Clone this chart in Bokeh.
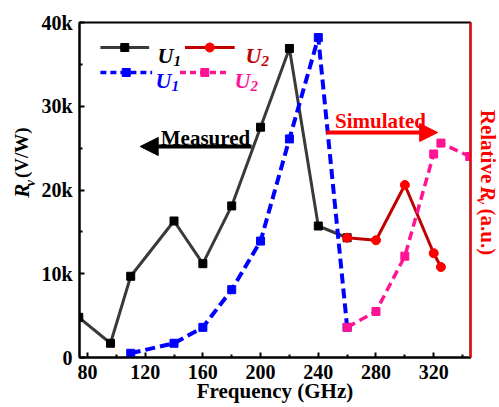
import math
from bokeh.plotting import figure
from bokeh.layouts import row
from bokeh.models import Label, Arrow, NormalHead, FixedTicker, LinearAxis, Range1d
from bokeh.embed import file_html
from bokeh.resources import INLINE

# ---------------- data ----------------
meas_u1_freq = [74, 96, 110, 140, 160, 180, 200, 220, 240, 260]
meas_u1_rv = [4800, 1700, 9700, 16300, 11200, 18100, 27500, 36900, 15700, 14300]
meas_u2_freq = [260, 280, 300, 320, 325]
meas_u2_rv = [14300, 14000, 20600, 12450, 10800]
sim_u1_freq = [110, 140, 160, 180, 200, 220, 240, 260]
sim_u1_rv = [500, 1700, 3600, 8100, 13900, 26100, 38200, 3600]
sim_u2_freq = [260, 280, 300, 320, 325, 345]
sim_u2_rv = [3600, 5500, 12100, 24300, 25600, 24000]

x_ticks = [80, 120, 160, 200, 240, 280, 320]
x_minor = [100, 140, 180, 220, 260, 300, 340]
y_ticks = [0, 10000, 20000, 30000, 40000]
y_tick_labels = ["0", "10k", "20k", "30k", "40k"]
y_minor = [5000, 15000, 25000, 35000]

# ---------------- layout ----------------
W, H = 499, 407
LW, RW = 38, 24            # side strips holding the rotated axis titles
MW = W - LW - RW           # main figure width
FL, FR, FT, FB = 77, 470, 22, 357   # frame edges in page pixels
X0, X1 = 74.5, 345.5
Y0, Y1 = 0, 40000
FONT = "Liberation Serif"

BLACK_LINE = "#3a3a3a"
RED_LINE = "#c00000"
RED = "#ff0000"
BLUE = "#0000ff"
PINK = "#ff1493"


def sx(px):
    return px - FL


def sy(py):
    return FB - py


def dx(px):
    return X0 + (px - FL) / (FR - FL) * (X1 - X0)


def dy(py):
    return Y0 + (FB - py) / (FB - FT) * (Y1 - Y0)


p = figure(width=MW, height=H, output_backend="svg", toolbar_location=None,
           x_range=Range1d(X0, X1), y_range=Range1d(Y0, Y1),
           min_border_left=FL - LW, min_border_right=(W - RW) - FR,
           min_border_top=FT, min_border_bottom=H - FB)
p.background_fill_color = "white"
p.border_fill_color = "white"
p.outline_line_color = "black"
p.outline_line_width = 2
p.xgrid.visible = False
p.ygrid.visible = False

for ax in (p.xaxis[0], p.yaxis[0]):
    ax.axis_line_width = 2
    ax.axis_line_color = "black"
    ax.major_tick_in = 5
    ax.major_tick_out = 0
    ax.minor_tick_in = 3
    ax.minor_tick_out = 0
    ax.major_tick_line_width = 2
    ax.minor_tick_line_width = 2
    ax.major_label_text_font = FONT
    ax.major_label_text_font_style = "bold"
    ax.major_label_text_font_size = "20px"
    ax.major_label_text_color = "black"
    ax.major_label_standoff = 7

p.xaxis[0].ticker = FixedTicker(ticks=x_ticks, minor_ticks=x_minor)
p.yaxis[0].ticker = FixedTicker(ticks=y_ticks, minor_ticks=y_minor)
p.yaxis[0].major_label_overrides = {t: s for t, s in zip(y_ticks, y_tick_labels)}

p.xaxis[0].axis_label = "Frequency (GHz)"
p.xaxis[0].axis_label_text_font = FONT
p.xaxis[0].axis_label_text_font_style = "bold"
p.xaxis[0].axis_label_text_font_size = "21px"
p.xaxis[0].axis_label_text_color = "black"
p.xaxis[0].axis_label_standoff = -3

ra = LinearAxis(ticker=FixedTicker(ticks=[]), axis_line_color=RED, axis_line_width=2,
                major_tick_in=0, major_tick_out=0, minor_tick_in=0, minor_tick_out=0,
                major_label_text_font_size="0px", major_label_standoff=0)
p.add_layout(ra, "right")

# ---------------- series ----------------
p.line(meas_u1_freq, meas_u1_rv, line_color=BLACK_LINE, line_width=3)
p.scatter(meas_u1_freq, meas_u1_rv, marker="square", size=8, fill_color="black", line_color="black")

p.line(meas_u2_freq, meas_u2_rv, line_color=RED_LINE, line_width=3)
p.scatter(meas_u2_freq, meas_u2_rv, marker="circle", size=9, fill_color=RED, line_color=RED)

p.line(sim_u1_freq, sim_u1_rv, line_color=BLUE, line_width=4, line_dash="10 5")
p.scatter(sim_u1_freq, sim_u1_rv, marker="square", size=8, fill_color=BLUE, line_color=BLUE)

p.line(sim_u2_freq, sim_u2_rv, line_color=PINK, line_width=3.5, line_dash="9 5")
p.scatter(sim_u2_freq, sim_u2_rv, marker="square", size=8, fill_color=PINK, line_color=PINK)

# ---------------- legend (manual) ----------------
legend_rows = [
    (98, 147, 47, BLACK_LINE, "solid", 3, "square", "black", 155, "black", "1"),
    (183, 233, 47, RED_LINE, "solid", 3, "circle", RED, 243, RED_LINE, "2"),
    (98, 150, 72, BLUE, "6 4", 3.5, "square", BLUE, 153, BLUE, "1"),
    (178, 228, 72, PINK, "6 4", 3.5, "square", PINK, 232, PINK, "2"),
]
for x0, x1, yy, col, dash, lw, mk, fill, tx, tcol, sub in legend_rows:
    p.line([dx(x0), dx(x1)], [dy(yy), dy(yy)], line_color=col, line_width=lw, line_dash=dash)
    p.scatter([dx((x0 + x1) / 2)], [dy(yy)], marker=mk, size=8 if mk == "square" else 9,
              fill_color=fill, line_color=fill)
    p.add_layout(Label(x=sx(tx), y=sy(yy + 8), x_units="screen", y_units="screen", text="U",
                       text_font=FONT, text_font_style="bold italic", text_font_size="22px",
                       text_color=tcol, text_align="left", text_baseline="alphabetic"))
    p.add_layout(Label(x=sx(tx + 16), y=sy(yy + 13), x_units="screen", y_units="screen", text=sub,
                       text_font=FONT, text_font_style="bold italic", text_font_size="15px",
                       text_color=tcol, text_align="left", text_baseline="alphabetic"))

# ---------------- annotations ----------------
p.add_layout(Arrow(end=NormalHead(size=18, fill_color="black", line_color="black"),
                   x_start=dx(250), y_start=dy(146), x_end=dx(138), y_end=dy(146),
                   line_color="black", line_width=4))
p.add_layout(Label(x=sx(203), y=sy(137), x_units="screen", y_units="screen", text="Measured",
                   text_font=FONT, text_font_style="bold", text_font_size="21px",
                   text_color="black", text_align="center", text_baseline="alphabetic"))

p.add_layout(Arrow(end=NormalHead(size=18, fill_color=RED, line_color=RED),
                   x_start=dx(325), y_start=dy(132), x_end=dx(437), y_end=dy(132),
                   line_color=RED, line_width=4))
p.add_layout(Label(x=sx(378), y=sy(120), x_units="screen", y_units="screen", text="Simulated",
                   text_font=FONT, text_font_style="bold", text_font_size="21px",
                   text_color=RED, text_align="center", text_baseline="alphabetic"))


# ---------------- side strips with rotated, mixed-style axis titles ----------------
def strip(w):
    f = figure(width=w, height=H, output_backend="svg", toolbar_location=None,
               x_range=Range1d(0, w), y_range=Range1d(0, H), min_border=0,
               x_axis_location=None, y_axis_location=None)
    f.outline_line_color = None
    f.background_fill_color = "white"
    f.border_fill_color = "white"
    f.grid.visible = False
    return f


def lab(f, px, py, text, size, color="black", style="bold", angle=0.0):
    # px: centre of the text across its reading direction; py: start of the text
    f.add_layout(Label(x=px, y=H - py, text=text, text_font=FONT, text_font_style=style,
                       text_font_size=size, text_color=color, text_align="left",
                       text_baseline="middle", angle=angle))


left = strip(LW)
lab(left, 21, 213, "R", "21px", style="bold italic", angle=math.pi / 2)
lab(left, 30, 199, "v", "14px", style="bold italic", angle=math.pi / 2)
lab(left, 21, 189, "(V/W)", "19px", angle=math.pi / 2)

right = strip(RW)
ox = W - RW
lab(right, 487.5 - ox, 106, "Relative", "21px", color=RED, angle=-math.pi / 2)
lab(right, 487.5 - ox, 199, "R", "21px", color=RED, style="bold italic", angle=-math.pi / 2)
lab(right, 481 - ox, 213, "v", "14px", color=RED, style="bold italic", angle=-math.pi / 2)
lab(right, 487.5 - ox, 226, "(a.u.)", "21px", color=RED, angle=-math.pi / 2)

layout = row(left, p, right, spacing=0)
open("out.html", "w").write(file_html(layout, INLINE))
